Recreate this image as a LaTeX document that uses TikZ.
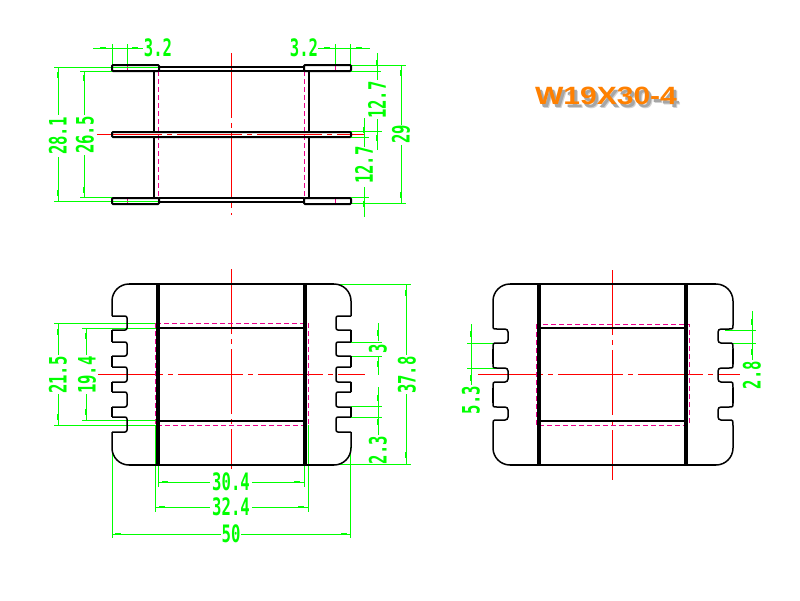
\documentclass[tikz,border=0pt]{standalone}
\usepackage{fontspec}
\newfontfamily\dimfont{DejaVu Sans Mono}[FakeStretch=0.65]
\newfontfamily\titlefont{Liberation Sans}[FakeStretch=1.2]
\definecolor{dimgreen}{RGB}{0,255,0}
\definecolor{titleorange}{RGB}{255,128,0}
\tikzset{
  edgeline/.style={black,line width=2pt},
  slotline/.style={black,line width=1.5pt},
  legline/.style={black,line width=4pt},
  axisline/.style={red,line width=1pt,dash pattern=on 65pt off 5pt on 5pt off 5pt},
  hiddenline/.style={magenta,line width=1pt,dash pattern=on 5pt off 3pt},
  dimline/.style={dimgreen,line width=1pt},
  dimtext/.style={text=dimgreen,inner sep=0pt,font=\dimfont\bfseries\fontsize{24}{24}\selectfont},
  dimside/.style={dimtext,rotate=90},
}
\begin{document}
\begin{tikzpicture}[x=1pt,y=-1pt]
\useasboundingbox (0,0) rectangle (800,600);
\fill[white] (0,0) rectangle (800,600);

\draw[axisline] (231,53) -- (231,215);
\draw[axisline] (97,134) -- (364,134);
\draw[axisline] (231,269) -- (231,469);
\draw[axisline] (98,374) -- (365,374);
\draw[axisline] (612,270) -- (612,480);
\draw[axisline] (478,374) -- (740,374);

\foreach \x in {158,304} \draw[hiddenline] (\x,71) -- (\x,198);
\foreach \x in {127,335} {
  \draw[magenta,line width=1pt] (\x,66) -- (\x,71);
  \draw[magenta,line width=1pt] (\x,198) -- (\x,204);
}
\draw[hiddenline] (155,323) rectangle (308,425);
\draw[hiddenline] (536,324) rectangle (689,425);

\draw[dimline] (93,48) -- (143,48) (112,44) -- (112,65) (127,44) -- (127,66);
\draw[dimline] (318,48) -- (370,48) (335,44) -- (335,66) (350,44) -- (350,65);
\draw[dimline] (54,67) -- (158,67) (54,201) -- (158,201) (80,71) -- (112,71) (80,197) -- (112,197);
\draw[dimline] (58,67) -- (58,115) (58,157) -- (58,201);
\draw[dimline] (84,71) -- (84,115) (84,155) -- (84,197);
\draw[dimline] (351,65) -- (406,65) (351,203) -- (406,203);
\draw[dimline] (351,71) -- (381,71) (351,131) -- (382,131) (351,137) -- (369,137) (351,197) -- (369,197);
\draw[dimline] (377,53) -- (377,80) (377,119) -- (377,150);
\draw[dimline] (364,118) -- (364,147) (364,187) -- (364,217);
\draw[dimline] (401,65) -- (401,125) (401,145) -- (401,203);
\draw[dimline] (54,323) -- (155,323) (54,425) -- (155,425) (82,328) -- (158,328) (82,420) -- (158,420);
\draw[dimline] (58,323) -- (58,355) (58,394) -- (58,425);
\draw[dimline] (86,328) -- (86,355) (86,394) -- (86,420);
\draw[dimline] (158,465) -- (158,487) (304,465) -- (304,487);
\draw[dimline] (158,482) -- (210,482) (252,482) -- (304,482);
\draw[dimline] (155,425) -- (155,512) (308,425) -- (308,512);
\draw[dimline] (155,507) -- (210,507) (252,507) -- (308,507);
\draw[dimline] (112,447) -- (112,538) (350,447) -- (350,538);
\draw[dimline] (112,534) -- (221,534) (241,534) -- (350,534);
\draw[dimline] (333,284) -- (411,284) (333,464) -- (411,464);
\draw[dimline] (406,284) -- (406,355) (406,394) -- (406,464);
\draw[dimline] (351,342) -- (382,342) (351,356) -- (382,356) (351,406) -- (382,406) (351,417) -- (382,417);
\draw[dimline] (378,323) -- (378,341) (378,357) -- (378,375) (378,387) -- (378,435);
\draw[dimline] (467,343) -- (505,343) (467,368) -- (505,368);
\draw[dimline] (471,324) -- (471,385);
\draw[dimline] (725,330) -- (756,330) (725,343) -- (756,343);
\draw[dimline] (752,311) -- (752,360);
\foreach \x/\y in {103/48,135/48,327/48,359/48,165/482,297/482,162/507,301/507,118/534,344/534}
  \fill[dimgreen] (\x-3,\y-1) rectangle (\x+3,\y+.5);
\foreach \x/\y in {58/75,58/193,84/78,84/190,377/63,377/138,364/130,364/204,401/73,401/195,58/332,58/417,86/336,86/412,406/293,406/455,378/333,378/364,378/398,378/422,471/334,471/378,752/322,752/352}
  \fill[dimgreen] (\x-1,\y-3) rectangle (\x+.5,\y+3);

\draw[edgeline,rounded corners=1pt] (159,71) -- (112,71) -- (112,65) -- (159,65) -- cycle;
\draw[edgeline,rounded corners=1pt] (304,71) -- (351,71) -- (351,65) -- (304,65) -- cycle;
\draw[edgeline,rounded corners=1pt] (112,132) rectangle (351,137);
\draw[edgeline,rounded corners=1pt] (159,198) -- (112,198) -- (112,204) -- (159,204) -- cycle;
\draw[edgeline,rounded corners=1pt] (304,198) -- (351,198) -- (351,204) -- (304,204) -- cycle;
\foreach \y in {67,71,198,202} \draw[edgeline] (159,\y) -- (304,\y);
\foreach \x in {154,309} {
  \draw[edgeline] (\x,71) -- (\x,132);
  \draw[edgeline] (\x,137) -- (\x,198);
}

\draw[slotline,rounded corners=17pt] (112,316) -- (112,284) -- (351,284) -- (351,316);
\draw[slotline,rounded corners=17pt] (112,432) -- (112,465) -- (351,465) -- (351,432);
\draw[edgeline] (129,284) -- (334,284) (129,465) -- (334,465);
\foreach \x/\s in {112/1,351/-1} {
  \foreach \a/\b in {316/330,342/356,367/382,392/407,417/432}
    \draw[slotline,rounded corners=2pt] (\x,\a) -- (\x+\s*15,\a) -- (\x+\s*15,\b) -- (\x,\b);
  \foreach \a/\b in {330/342,356/367,382/392,407/417}
    \draw[slotline] (\x,\a) -- (\x,\b);
}
\foreach \x in {158,305} \draw[legline] (\x,284) -- (\x,465);
\foreach \y in {328,421} \draw[edgeline] (158,\y) -- (305,\y);

\draw[slotline,rounded corners=17pt] (493,325) -- (493,284) -- (733,284) -- (733,325);
\draw[slotline,rounded corners=17pt] (493,426) -- (493,465) -- (733,465) -- (733,426);
\draw[edgeline] (510,284) -- (716,284) (510,465) -- (716,465);
\foreach \x/\s in {493/1,733/-1} {
  \foreach \a/\b in {329/343,368/382,407/420}
    \draw[slotline,rounded corners=3pt] (\x,\a-4) .. controls (\x,\a) .. (\x+\s*7,\a) -- (\x+\s*15,\a) -- (\x+\s*15,\b) -- (\x+\s*7,\b) .. controls (\x,\b) .. (\x,\b+6);
  \draw[slotline] (\x,349) -- (\x,364) (\x,388) -- (\x,403);
}
\foreach \x in {539,686} \draw[legline] (\x,284) -- (\x,465);
\foreach \y in {328,421} \draw[edgeline] (539,\y) -- (686,\y);

\node[dimtext] (wl) at (158,48) {3.2};
\node[dimtext] (wr) at (304,48) {3.2};
\node[dimside] (ho) at (58,136) {28.1};
\node[dimside] (hi) at (85,135) {26.5};
\node[dimside] (pu) at (377,100) {12.7};
\node[dimside] (pl) at (364,165) {12.7};
\node[dimside] (ht) at (401,134) {29};
\node[dimside] (wino) at (58,375) {21.5};
\node[dimside] (wini) at (87,375) {19.4};
\node[dimside] (depth) at (407,375) {37.8};
\node[dimside] (slot) at (378,349) {3};
\node[dimside] (rib) at (378,450) {2.3};
\node[dimside] (pitch) at (471,400) {5.3};
\node[dimside] (gap) at (752,375) {2.8};
\node[dimtext] (inw) at (231,482) {30.4};
\node[dimtext] (outw) at (231,507) {32.4};
\node[dimtext] (total) at (231,534) {50};

\node[text=gray!35,font=\titlefont\bfseries\fontsize{25}{25}\selectfont] (shadowb) at (609.5,99.5) {W19X30-4};
\node[text=gray!70,font=\titlefont\bfseries\fontsize{25}{25}\selectfont] (shadowa) at (608.5,98.5) {W19X30-4};
\node[text=titleorange,font=\titlefont\bfseries\fontsize{25}{25}\selectfont] (title) at (606,96) {W19X30-4};
\end{tikzpicture}
\end{document}
